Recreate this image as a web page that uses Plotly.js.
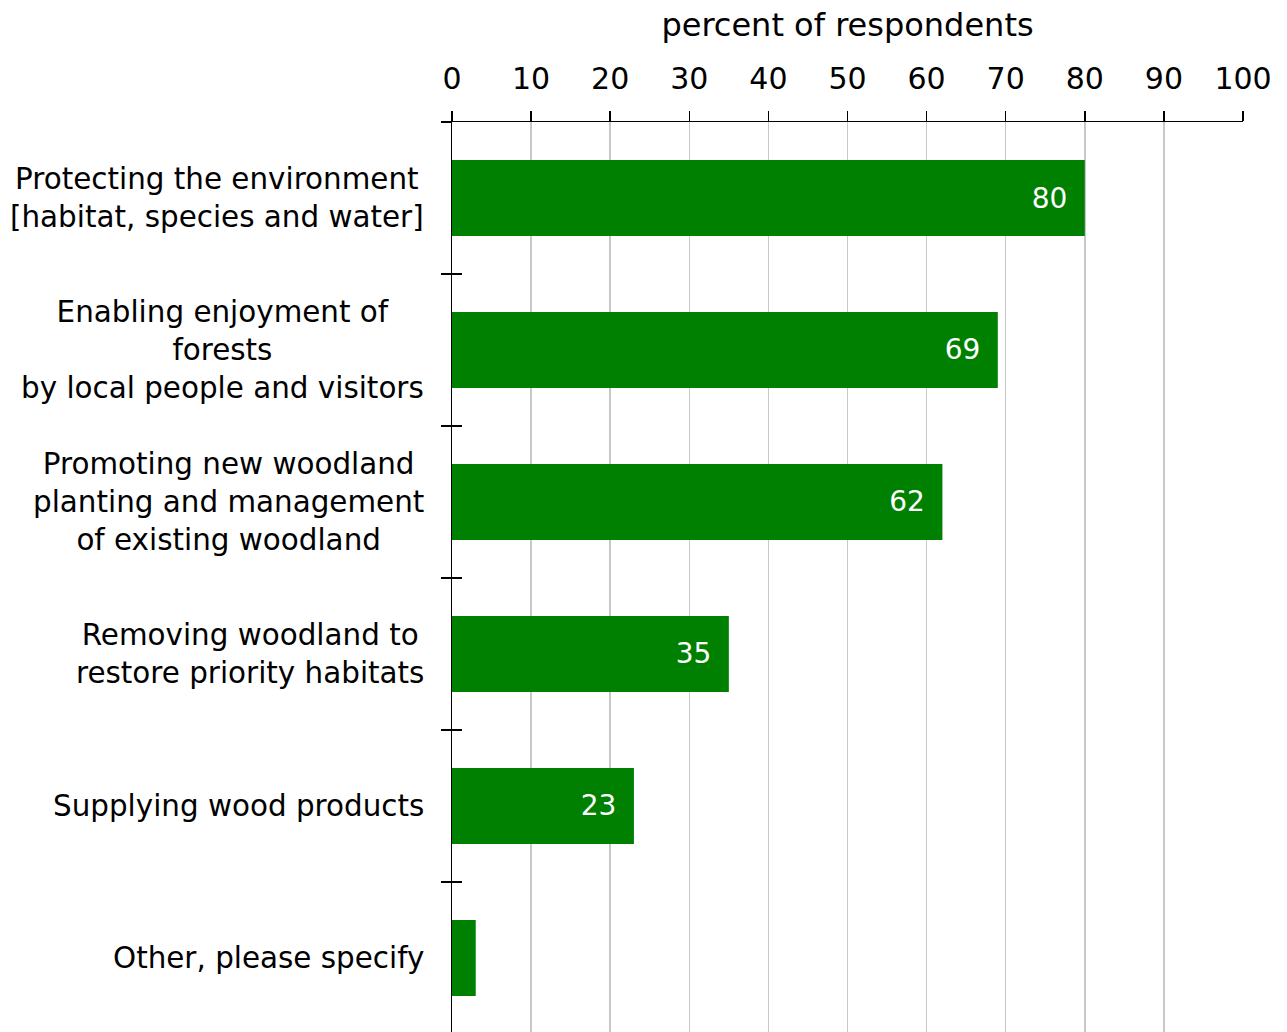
<!DOCTYPE html>
<html>
<head>
<meta charset="utf-8">
<script src="https://cdn.plot.ly/plotly-3.0.1.min.js"></script>
<style>html,body{margin:0;padding:0;background:#fff;}#chart{width:1287px;height:1032px;}</style>
</head>
<body>
<div id="chart"></div>
<script>
const categories = [
  "Protecting the environment<br>[habitat, species and water]",
  "Enabling enjoyment of<br>forests<br>by local people and visitors",
  "Promoting new woodland<br>planting and management<br>of existing woodland",
  "Removing woodland to<br>restore priority habitats",
  "Supplying wood products",
  "Other, please specify"
];
const values = [80, 69, 62, 35, 23, 3];
const xTickValues = [0, 10, 20, 30, 40, 50, 60, 70, 80, 90, 100];
const axisTitle = "percent of respondents";

const FONT = "DejaVu Sans, Verdana, sans-serif";
const FS_LABEL = 29.4;
const FS_TICK = 30;
const FS_TITLE = 32;
const FS_VALUE = 28;

const traces = [
  {
    type: 'bar',
    orientation: 'h',
    x: values,
    y: categories,
    width: 0.5,
    marker: {color: '#008000'},
    text: values.map(v => v + '\u00a0\u2009'),
    textposition: 'inside',
    insidetextanchor: 'end',
    textfont: {color: '#ffffff', size: FS_VALUE, family: FONT},
    hoverinfo: 'x+y',
    xaxis: 'x', yaxis: 'y'
  },
  {
    type: 'scatter',
    mode: 'none',
    x: values,
    y: categories,
    hoverinfo: 'skip',
    showlegend: false,
    xaxis: 'x', yaxis: 'y2'
  }
];

const annotations = categories.map(c => ({
  x: 0, xref: 'paper', xanchor: 'right', xshift: -26,
  y: c, yref: 'y', yanchor: 'middle',
  text: c, align: 'center', showarrow: false,
  font: {family: FONT, size: FS_LABEL, color: '#000'}
}));

const yRange = [5.487, -0.5];

const layout = {
  width: 1287, height: 1032,
  margin: {l: 452, r: 44, t: 122, b: 0, pad: 0},
  paper_bgcolor: '#fff', plot_bgcolor: '#fff',
  font: {family: FONT, size: FS_LABEL, color: '#000'},
  showlegend: false,
  bargap: 0.5,
  uniformtext: {mode: 'hide', minsize: FS_VALUE},
  xaxis: {
    side: 'top', range: [0, 100], tickvals: xTickValues,
    ticks: 'outside', ticklen: 10, tickwidth: 1.5, tickcolor: '#000',
    ticklabelstandoff: 10,
    showline: true, linecolor: '#000', linewidth: 1.5,
    showgrid: true, gridcolor: '#c8c8c8', gridwidth: 1.5,
    zeroline: false,
    tickfont: {family: FONT, size: FS_TICK, color: '#000'},
    title: {text: axisTitle, font: {family: FONT, size: FS_TITLE, color: '#000'}, standoff: 14},
    fixedrange: true
  },
  yaxis: {
    type: 'category', categoryorder: 'array', categoryarray: categories,
    range: yRange, tickson: 'boundaries',
    ticks: 'outside', ticklen: 10, tickwidth: 1.5, tickcolor: '#000',
    showline: true, linecolor: '#000', linewidth: 1.5,
    showgrid: false, zeroline: false, showticklabels: false,
    fixedrange: true
  },
  yaxis2: {
    type: 'category', categoryorder: 'array', categoryarray: categories,
    overlaying: 'y', side: 'left', anchor: 'x',
    range: yRange, tickson: 'boundaries',
    ticks: 'inside', ticklen: 10, tickwidth: 1.5, tickcolor: '#000',
    showline: false, showgrid: false, zeroline: false, showticklabels: false,
    fixedrange: true
  },
  annotations: annotations
};

Plotly.newPlot('chart', traces, layout, {displayModeBar: false, staticPlot: true});
</script>
</body>
</html>
